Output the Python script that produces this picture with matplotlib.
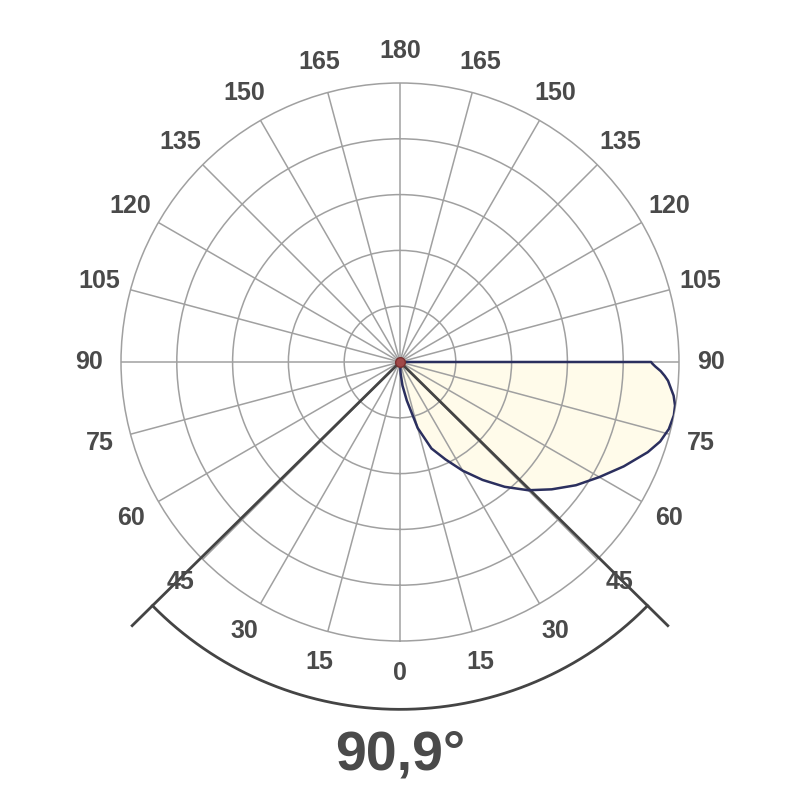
import numpy as np
import matplotlib
matplotlib.use("Agg")
import matplotlib.pyplot as plt

# luminous intensity curve, % of max ring (angle measured from nadir)
angles = [0, 3, 6, 10, 15, 20, 25, 30, 35, 40, 45, 50, 55, 60, 65, 70, 73, 76, 79, 81, 83, 84.5, 86, 87, 88, 89, 89.6, 90]
intensity = [0, 4, 8.5, 14, 24.5, 33, 38.5, 45, 51.6, 58.4, 65, 71, 77, 82.5, 88.5, 94.5, 97.5, 99.3, 100, 99.8, 98.8, 97.5, 96.3, 95, 93.5, 91.5, 90.5, 90]

beam_angle = 90.9
tick_angles = list(range(0, 181, 15))
title = "90,9°"

plt.rcParams['font.family'] = ['Liberation Sans', 'DejaVu Sans']
text_col = "#4a4a4a"
grid_col = "#a0a0a0"

fig = plt.figure(figsize=(8, 8), dpi=100)
ax = fig.add_axes([0.15125, 0.19875, 0.6975, 0.6975], projection="polar")
ax.set_theta_zero_location("S")
ax.set_theta_direction(1)
ax.set_ylim(0, 100)

ax.set_rgrids([20, 40, 60, 80], labels=[])
ax.set_thetagrids(range(0, 360, 15), labels=[])
ax.grid(True, color=grid_col, lw=1.1)
ax.spines["polar"].set_color(grid_col)
ax.spines["polar"].set_linewidth(1.1)

# curve
th = np.radians(angles)
ax.fill(np.append(th, 0), np.append(intensity, 0), color="#fffbea", zorder=1)
ax.plot(np.append(th, th[-1]), np.append(intensity, 0), color="#2b2f5e", lw=1.8, zorder=4)

# beam angle markers
half = np.radians(beam_angle / 2)
for b in (-half, half):
    ax.plot([b, b], [0, 134.7], color="#444444", lw=2, clip_on=False, zorder=3)
arc = np.linspace(-half, half, 200)
ax.plot(arc, np.full_like(arc, 124.5), color="#444444", lw=2, clip_on=False, zorder=3)

ax.plot([0], [0], "o", ms=7, mfc="#a04848", mec="#7a3030", zorder=5)

# angle labels on both sides
for a in tick_angles:
    for s in ((1, -1) if 0 < a < 180 else (1,)):
        ax.text(np.radians(s * a), 111.5, str(a), ha="center", va="center",
                fontsize=18, fontweight="bold", color=text_col, clip_on=False, zorder=6)

fig.text(0.5, 1 - 755 / 800, title, ha="center", va="center",
         fontsize=40, fontweight="bold", color=text_col)

fig.savefig("out.png", dpi=100)
